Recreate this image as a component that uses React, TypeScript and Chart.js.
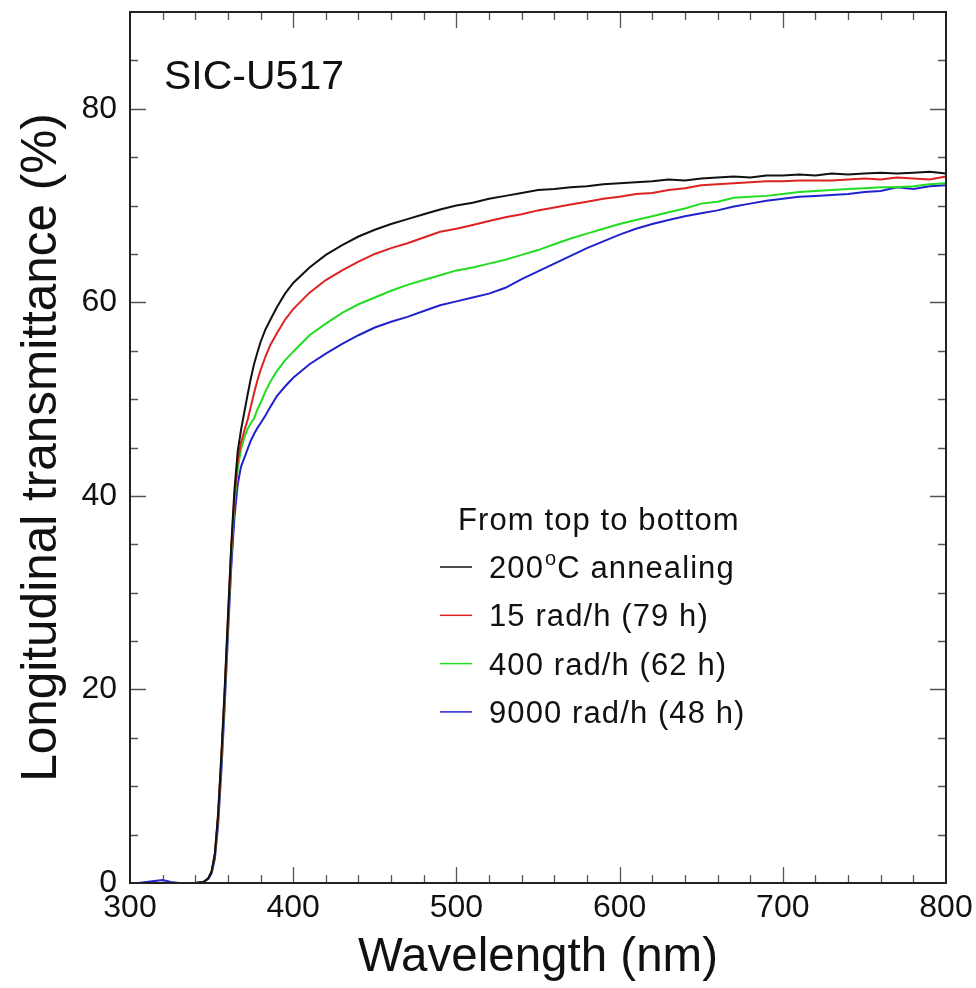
import React, { useEffect, useRef } from "react";
import { Chart, registerables } from "chart.js";

Chart.register(...registerables);

const wavelengths = [300,305,310,315,320,325,330,335,340,345,348,350,352,354,356,358,360,362,364,366,368,370,372,374,376,378,380,383,386,390,395,400,410,420,430,440,450,460,470,480,490,500,510,520,530,540,550,560,570,580,590,600,610,620,630,640,650,660,670,680,690,700,710,720,730,740,750,760,770,780,790,800];

const annealing200C = [0,0,0,0,0,0,0,0,0,0.1,0.5,1.2,3.0,7.2,13.3,20.0,27.5,34.8,40.6,44.6,46.8,48.6,50.4,52.1,53.6,54.8,55.9,57.2,58.2,59.5,60.9,62.0,63.6,64.9,65.9,66.8,67.5,68.1,68.6,69.1,69.6,70.0,70.3,70.7,71.0,71.3,71.6,71.7,71.9,72.0,72.2,72.3,72.4,72.5,72.7,72.6,72.8,72.9,73.0,72.9,73.1,73.1,73.2,73.1,73.3,73.2,73.3,73.4,73.3,73.4,73.5,73.3];

const rad15 = [0,0,0,0,0,0,0,0,0,0.1,0.5,1.2,3.0,7.0,13.0,19.7,27.1,34.3,39.9,43.6,45.5,46.7,47.8,49.2,50.6,51.9,53.0,54.4,55.6,56.8,58.2,59.3,61.0,62.3,63.3,64.2,65.0,65.6,66.1,66.7,67.3,67.6,68.0,68.4,68.8,69.1,69.5,69.8,70.1,70.4,70.7,70.9,71.2,71.3,71.6,71.8,72.1,72.2,72.3,72.4,72.5,72.5,72.6,72.6,72.6,72.7,72.8,72.7,72.9,72.8,72.7,73.0];

const rad400 = [0,0,0,0,0,0,0,0,0,0.1,0.5,1.2,2.9,6.8,12.7,19.3,26.7,33.7,39.3,42.8,44.8,46.0,46.9,47.5,48.0,48.9,49.6,50.8,51.8,52.9,54.0,54.9,56.6,57.8,58.9,59.8,60.5,61.2,61.8,62.3,62.8,63.3,63.6,64.0,64.4,64.9,65.4,66.0,66.6,67.1,67.6,68.1,68.5,68.9,69.3,69.7,70.2,70.4,70.8,70.9,71.0,71.2,71.4,71.5,71.6,71.7,71.8,71.9,71.9,72.0,72.2,72.3];

const rad9000 = [0,0,0.1,0.2,0.3,0.1,0,0,0,0.1,0.4,1.0,2.5,6.0,11.6,18.2,25.5,32.5,37.8,41.2,43.0,43.9,44.8,45.7,46.4,47.0,47.5,48.3,49.2,50.3,51.3,52.2,53.6,54.7,55.7,56.6,57.4,58.0,58.5,59.1,59.7,60.1,60.5,60.9,61.5,62.4,63.2,64.0,64.8,65.6,66.3,67.0,67.6,68.1,68.5,68.9,69.2,69.5,69.9,70.2,70.5,70.7,70.9,71.0,71.1,71.2,71.4,71.5,71.9,71.7,72.0,72.1];

const seriesLabels = ["200°C annealing", "15 rad/h (79 h)", "400 rad/h (62 h)", "9000 rad/h (48 h)"];
const seriesColors = ["#111111", "#dd2222", "#22dd22", "#2222cc"];
const seriesValues = [annealing200C, rad15, rad400, rad9000];

const xTickValues = [300, 400, 500, 600, 700, 800];
const yTickValues = [0, 20, 40, 60, 80];

const FONT = "'Liberation Sans', Arial, Helvetica, sans-serif";

const framePlugin = {
  id: "frameTicks",
  afterDraw(chart: any) {
    const { ctx, chartArea } = chart;
    const xs = chart.scales.x;
    const ys = chart.scales.y;
    const { left, right, top, bottom } = chartArea;
    ctx.save();
    ctx.strokeStyle = "#555";
    ctx.lineWidth = 1.3;
    ctx.beginPath();
    for (let v = 300; v <= 800; v += 20) {
      if (v === 300 || v === 800) continue;
      const px = Math.round(xs.getPixelForValue(v)) + 0.5;
      const len = v % 100 === 0 ? 16 : 8;
      ctx.moveTo(px, bottom);
      ctx.lineTo(px, bottom - len);
      ctx.moveTo(px, top);
      ctx.lineTo(px, top + len);
    }
    for (let v = 5; v < 90; v += 5) {
      const py = Math.round(ys.getPixelForValue(v)) + 0.5;
      const len = v % 20 === 0 ? 16 : 8;
      ctx.moveTo(left, py);
      ctx.lineTo(left + len, py);
      ctx.moveTo(right, py);
      ctx.lineTo(right - len, py);
    }
    ctx.stroke();
    ctx.strokeStyle = "#222";
    ctx.lineWidth = 2;
    ctx.strokeRect(left, top, right - left, bottom - top);

    ctx.fillStyle = "#111";
    ctx.textBaseline = "alphabetic";
    ctx.textAlign = "left";
    ctx.font = `41px ${FONT}`;
    ctx.fillText("SIC-U517", 164, 89);

    ctx.letterSpacing = "1.1px";
    ctx.font = `31px ${FONT}`;
    ctx.fillText("From top to bottom", 458, 530);
    const rowY0 = 578;
    const rowGap = 48.3;
    for (let i = 0; i < seriesLabels.length; i++) {
      const base = rowY0 + i * rowGap;
      ctx.strokeStyle = seriesColors[i];
      ctx.lineWidth = 1.5;
      ctx.beginPath();
      ctx.moveTo(440, base - 11);
      ctx.lineTo(472, base - 11);
      ctx.stroke();
      ctx.fillStyle = "#111";
      ctx.font = `31px ${FONT}`;
      const label = seriesLabels[i];
      if (label.includes("°C")) {
        const [pre, post] = label.split("°");
        ctx.fillText(pre, 489, base);
        let x = 489 + ctx.measureText(pre).width + 1;
        ctx.font = `20px ${FONT}`;
        ctx.fillText("o", x, base - 13);
        x += ctx.measureText("o").width;
        ctx.font = `31px ${FONT}`;
        ctx.fillText(post, x, base);
      } else {
        ctx.fillText(label, 489, base);
      }
    }
    ctx.restore();
  },
};

export default function App() {
  const canvasRef = useRef<HTMLCanvasElement | null>(null);

  useEffect(() => {
    if (!canvasRef.current) return;
    const datasets = seriesValues.map((vals, i) => ({
      label: seriesLabels[i],
      data: wavelengths.map((w, j) => ({ x: w, y: vals[j] })),
      borderColor: seriesColors[i],
      backgroundColor: seriesColors[i],
      borderWidth: 2,
      pointRadius: 0,
      tension: 0,
      fill: false,
    }));
    const chart = new Chart(canvasRef.current, {
      type: "line",
      data: { datasets },
      plugins: [framePlugin],
      options: {
        responsive: true,
        maintainAspectRatio: false,
        animation: false,
        layout: { padding: { left: 0, top: 12, right: 30, bottom: 0 } },
        plugins: {
          legend: { display: false },
          tooltip: { enabled: false },
        },
        scales: {
          x: {
            type: "linear",
            min: 300,
            max: 800,
            afterFit: (s: any) => {
              s.height = 105;
              s.paddingLeft = 0;
              s.paddingRight = 0;
            },
            afterBuildTicks: (s: any) => {
              s.ticks = xTickValues.map((v) => ({ value: v }));
            },
            grid: { display: false, drawTicks: false },
            border: { display: false },
            ticks: {
              autoSkip: false,
              maxRotation: 0,
              padding: 6,
              color: "#111",
              font: { family: FONT, size: 32 },
            },
            title: {
              display: true,
              text: "Wavelength (nm)",
              color: "#111",
              font: { family: FONT, size: 47.5 },
              padding: { top: 0, bottom: 2 },
            },
          },
          y: {
            type: "linear",
            min: 0,
            max: 90,
            afterFit: (s: any) => {
              s.width = 130;
              s.paddingTop = 0;
              s.paddingBottom = 0;
            },
            afterBuildTicks: (s: any) => {
              s.ticks = yTickValues.map((v) => ({ value: v }));
            },
            grid: { display: false, drawTicks: false },
            border: { display: false },
            ticks: {
              autoSkip: false,
              padding: 13,
              color: "#111",
              font: { family: FONT, size: 32 },
            },
            title: {
              display: true,
              text: "Longitudinal transmittance (%)",
              color: "#111",
              font: { family: FONT, size: 49.5 },
              padding: { top: 13, bottom: 0 },
            },
          },
        },
      },
    });
    return () => chart.destroy();
  }, []);

  return (
    <div style={{ position: "fixed", left: 0, top: 0, width: 976, height: 988, background: "#fff" }}>
      <canvas ref={canvasRef} />
    </div>
  );
}
